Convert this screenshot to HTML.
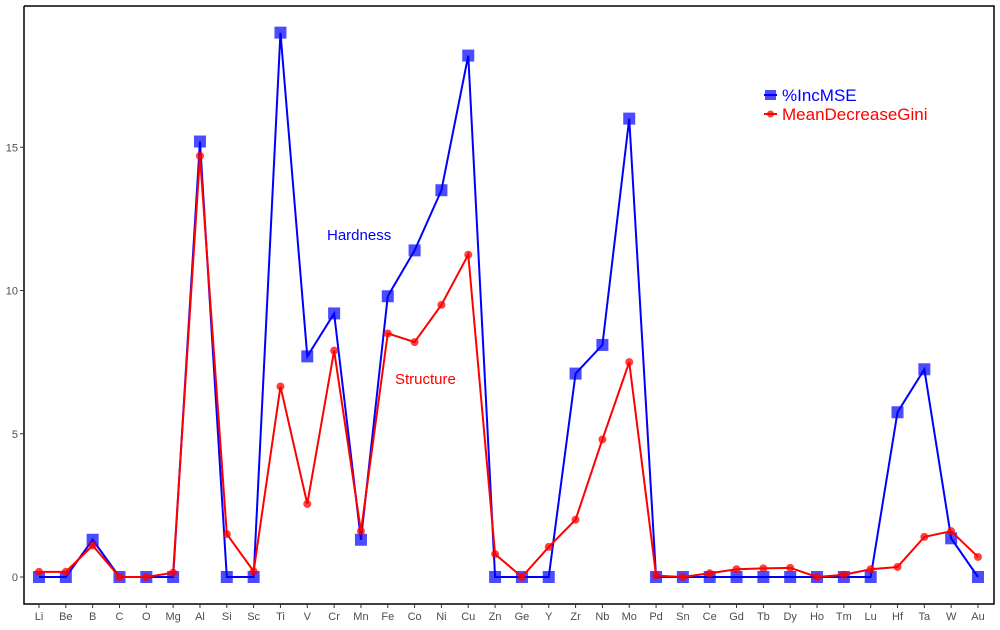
<!DOCTYPE html>
<html><head><meta charset="utf-8"><style>
body{margin:0;background:#fff;font-family:"Liberation Sans",sans-serif}
</style></head><body>
<svg id="chart" width="1000" height="625" xmlns="http://www.w3.org/2000/svg" font-family="Liberation Sans, sans-serif"></svg>
<script>
const categories=["Li","Be","B","C","O","Mg","Al","Si","Sc","Ti","V","Cr","Mn","Fe","Co","Ni","Cu","Zn","Ge","Y","Zr","Nb","Mo","Pd","Sn","Ce","Gd","Tb","Dy","Ho","Tm","Lu","Hf","Ta","W","Au"];
const incMSE=[0,0,1.3,0,0,0,15.2,0,0,19,7.7,9.2,1.3,9.8,11.4,13.5,18.2,0,0,0,7.1,8.1,16,0,0,0,0,0,0,0,0,0,5.75,7.25,1.35,0];
const gini=[0.18,0.18,1.1,0,0,0.15,14.7,1.5,0.2,6.65,2.55,7.9,1.6,8.5,8.2,9.5,11.25,0.8,0,1.05,2.0,4.8,7.5,0.05,0,0.13,0.27,0.3,0.32,0,0.08,0.27,0.35,1.4,1.6,0.7];
const yTicks=[0,5,10,15];
const NS="http://www.w3.org/2000/svg";
const svg=document.getElementById('chart');
const x=i=>39+i*(978-39)/35;
const y=v=>577-v*28.65;
function mk(t,a,p){const e=document.createElementNS(NS,t);for(const k in a)e.setAttribute(k,a[k]);(p||svg).appendChild(e);return e;}
const ax=mk('path',{d:'M24,6 V604 H994 V6 H24',fill:'none',stroke:'#000','stroke-width':1.5});


yTicks.forEach(t=>{
 const l=mk('line',{x1:20,x2:24,y1:y(t),y2:y(t),stroke:'#333'});
 
 
 const tx=mk('text',{x:18,y:y(t)+4,'text-anchor':'end','font-size':11,fill:'#4d4d4d'});
 tx.textContent=t;
 
 
});
categories.forEach((c,i)=>{
 const l=mk('line',{x1:x(i),x2:x(i),y1:604,y2:608,stroke:'#333'});
 
 
 const tx=mk('text',{x:x(i),y:620,'text-anchor':'middle','font-size':11,fill:'#4d4d4d'});
 tx.textContent=c;
 
 
});
const bl=mk('polyline',{points:incMSE.map((v,i)=>x(i)+','+y(v)).join(' '),fill:'none',stroke:'#0000ff','stroke-width':2});


incMSE.forEach((v,i)=>{
 const r=mk('rect',{x:x(i)-6,y:y(v)-6,width:12,height:12,fill:'#0000ff','fill-opacity':0.7});
 
 
});
const rl=mk('polyline',{points:gini.map((v,i)=>x(i)+','+y(v)).join(' '),fill:'none',stroke:'#ff0000','stroke-width':2});


gini.forEach((v,i)=>{
 const c=mk('circle',{cx:x(i),cy:y(v),r:4,fill:'#ff0000','fill-opacity':0.75});
 
 
});
</script>
<svg style="position:absolute;left:0;top:0" width="1000" height="625" xmlns="http://www.w3.org/2000/svg" font-family="Liberation Sans, sans-serif">
<text x="327" y="240" font-size="15" fill="#0000ff">Hardness</text>
<text x="395" y="384" font-size="15" fill="#ff0000">Structure</text>
<g>
<g><line x1="764" x2="777" y1="95" y2="95" stroke="#0000ff" stroke-width="2"/><rect x="765" y="90" width="11" height="10" fill="#0000ff" fill-opacity="0.7"/><text x="782" y="101" font-size="17" fill="#0000ff">%IncMSE</text></g>
<g><line x1="764" x2="777" y1="114" y2="114" stroke="#ff0000" stroke-width="2"/><circle cx="770.5" cy="114" r="3.5" fill="#ff0000" fill-opacity="0.75"/><text x="782" y="120" font-size="17" fill="#ff0000">MeanDecreaseGini</text></g>
</g>
</svg>
</body></html>
